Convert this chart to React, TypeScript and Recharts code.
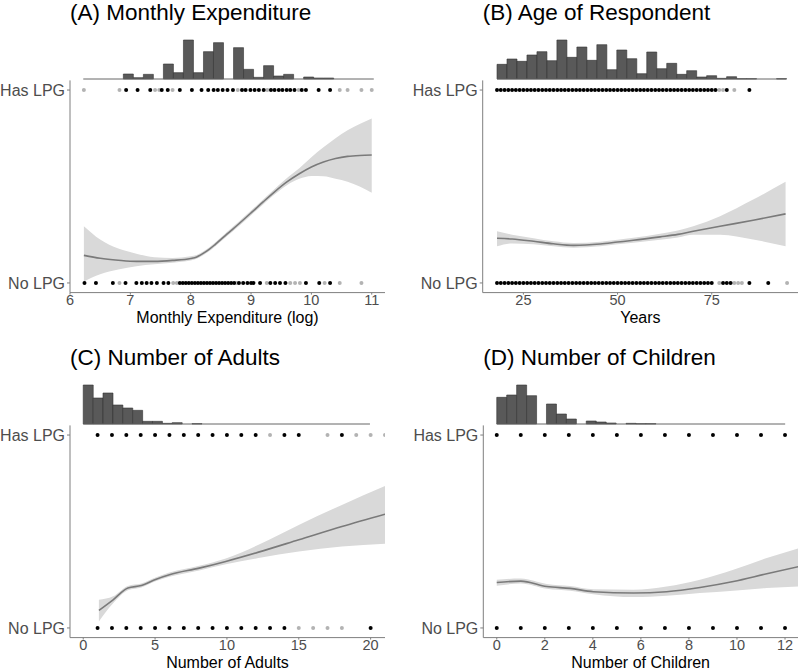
import React from 'react';
import { BarChart, Bar, XAxis, YAxis, ComposedChart, Area, Line, Scatter, ReferenceLine } from 'recharts';

const FONT = '"Liberation Sans", Arial, Helvetica, sans-serif';
const LEVELS = ['No LPG', 'Has LPG'];

// (A) Monthly expenditure (log)
const expBins = [0, 0, 0, 0, 15, 4, 14, 0, 45, 19, 117, 19, 82, 109, 0, 94, 29, 5, 40, 9, 14, 0, 6, 3, 3, 0, 0, 0, 0];
const expBinStart = 6.22;
const expBinWidth = 0.166;
const expX = [6.23, 6.5, 6.8, 7.1, 7.4, 7.7, 8.0, 8.1, 8.2, 8.3, 8.4, 8.6, 8.8, 9.0, 9.2, 9.4, 9.6, 9.8, 10.0, 10.2, 10.4, 10.6, 10.8, 11.0];
const expFit = [0.143, 0.128, 0.118, 0.112, 0.112, 0.117, 0.127, 0.135, 0.152, 0.173, 0.198, 0.253, 0.307, 0.363, 0.42, 0.475, 0.525, 0.566, 0.601, 0.627, 0.645, 0.656, 0.661, 0.663];
const expLo = [0.008, 0.045, 0.07, 0.087, 0.097, 0.105, 0.116, 0.125, 0.142, 0.163, 0.188, 0.242, 0.295, 0.351, 0.407, 0.461, 0.508, 0.54, 0.555, 0.553, 0.54, 0.525, 0.5, 0.467];
const expHi = [0.294, 0.225, 0.178, 0.152, 0.133, 0.13, 0.138, 0.145, 0.162, 0.183, 0.208, 0.264, 0.319, 0.375, 0.433, 0.489, 0.545, 0.595, 0.652, 0.703, 0.75, 0.792, 0.824, 0.853];
const expHasDark = [6.93, 7.12, 7.33, 7.52, 7.62, 7.82, 8.02, 8.18, 8.29, 8.38, 8.45, 8.53, 8.61, 8.7, 8.85, 8.91, 8.99, 9.06, 9.13, 9.21, 9.33, 9.39, 9.46, 9.52, 9.59, 9.65, 9.72, 9.84, 9.91, 10.12, 10.31];
const expHasLight = [6.23, 6.82, 7.41, 7.48, 7.7, 8.78, 9.27, 9.79, 10.47, 10.6, 10.83, 11.0];
const expNoDark = [6.24, 6.43, 6.71, 6.92, 7.1, 7.19, 7.27, 7.35, 7.44, 7.55, 7.63, 7.82, 7.87, 7.92, 7.97, 8.02, 8.07, 8.12, 8.17, 8.22, 8.27, 8.32, 8.37, 8.42, 8.47, 8.52, 8.57, 8.62, 8.67, 8.72, 8.8, 8.87, 8.94, 9.0, 9.04, 9.15, 9.32, 9.4, 9.48, 9.57, 9.91, 10.13, 10.31];
const expNoLight = [6.82, 7.71, 7.77, 8.76, 9.26, 9.65, 9.73, 9.81, 10.22, 10.47, 10.83];
const expTicks = [6, 7, 8, 9, 10, 11];

// (B) Age of respondent
const ageBins = [44, 60, 53, 72, 82, 55, 117, 65, 96, 56, 103, 28, 87, 61, 16, 81, 31, 47, 14, 25, 6, 10, 2, 7, 1, 1, 0, 0, 1];
const ageBinStart = 18;
const ageBinWidth = 2.65;
const ageX = [18, 22, 27.7, 33, 38.3, 45.4, 50, 54.2, 61.3, 66, 70.1, 77.2, 86, 94.6];
const ageFit = [0.232, 0.228, 0.216, 0.203, 0.195, 0.202, 0.212, 0.221, 0.239, 0.252, 0.268, 0.294, 0.325, 0.358];
const ageLo = [0.19, 0.205, 0.2, 0.19, 0.183, 0.19, 0.2, 0.208, 0.224, 0.236, 0.25, 0.25, 0.225, 0.19];
const ageHi = [0.268, 0.25, 0.232, 0.216, 0.207, 0.214, 0.224, 0.234, 0.255, 0.272, 0.294, 0.346, 0.432, 0.524];
const ageHasDark = [18, 19, 20, 21, 22, 23, 24, 25, 26, 27, 28, 29, 30, 31, 32, 33, 34, 35, 36, 37, 38, 39, 40, 41, 42, 43, 44, 45, 46, 47, 48, 49, 50, 51, 52, 53, 54, 55, 56, 57, 58, 59, 60, 61, 62, 63, 64, 65, 66, 67, 68, 69, 70, 71, 72, 73, 74, 75, 76, 79, 85];
const ageHasLight = [77, 78, 81];
const ageNoDark = [18, 19, 20, 21, 22, 23, 24, 25, 26, 27, 28, 29, 30, 31, 32, 33, 34, 35, 36, 37, 38, 39, 40, 41, 42, 43, 44, 45, 46, 47, 48, 49, 50, 51, 52, 53, 54, 55, 56, 57, 58, 59, 60, 61, 62, 63, 64, 65, 66, 67, 68, 69, 70, 71, 72, 73, 74, 75, 78, 79, 80, 85, 90];
const ageNoLight = [77, 81, 82, 83, 95];
const ageTicks = [25, 50, 75];

// (C) Number of adults
const adultBins = [117, 78, 93, 57, 48, 41, 8, 8, 2, 4, 0, 1, 0, 0, 0, 0, 0, 0, 0, 0, 0, 0, 0, 0, 0, 0, 0, 0, 0];
const adultBinStart = 0;
const adultBinWidth = 0.688;
const adultX = [1.09, 2.08, 3.11, 4.04, 5.08, 6, 8.07, 9.92, 12.2, 15, 18, 21];
const adultFit = [0.091, 0.146, 0.207, 0.22, 0.253, 0.276, 0.31, 0.345, 0.393, 0.457, 0.526, 0.59];
const adultLo = [0.034, 0.128, 0.196, 0.21, 0.243, 0.265, 0.298, 0.33, 0.362, 0.396, 0.422, 0.436];
const adultHi = [0.146, 0.164, 0.218, 0.23, 0.263, 0.287, 0.322, 0.36, 0.431, 0.534, 0.638, 0.736];
const adultHasDark = [1, 2, 3, 4, 5, 6, 7, 8, 9, 10, 11, 12, 14, 15, 18];
const adultHasLight = [13, 17, 19, 20, 21];
const adultNoDark = [1, 2, 3, 4, 5, 6, 7, 8, 9, 10, 11, 12, 13, 14, 20];
const adultNoLight = [15, 16, 17, 18];
const adultTicks = [0, 5, 10, 15, 20];

// (D) Number of children
const childBins = [80, 87, 117, 85, 0, 60, 30, 15, 0, 9, 6, 3, 0, 2, 1, 1, 0, 0, 0, 0, 0, 0, 0, 0, 0, 0, 0, 0, 0];
const childBinStart = 0;
const childBinWidth = 0.414;
const childX = [0, 1, 2.08, 3.05, 4.02, 5.69, 7.07, 8.46, 9.85, 11.24, 12.6];
const childFit = [0.236, 0.243, 0.215, 0.205, 0.188, 0.181, 0.188, 0.21, 0.241, 0.281, 0.319];
const childLo = [0.219, 0.23, 0.203, 0.193, 0.175, 0.16, 0.167, 0.181, 0.193, 0.207, 0.215];
const childHi = [0.25, 0.256, 0.228, 0.217, 0.2, 0.198, 0.215, 0.25, 0.302, 0.362, 0.414];
const childHasDark = [0, 1, 2, 3, 4, 5, 6, 7, 8, 9, 10, 11, 12];
const childHasLight: number[] = [];
const childNoDark = [0, 1, 2, 3, 4, 5, 6, 7, 8, 9, 10, 11, 12];
const childNoLight: number[] = [];
const childTicks = [0, 2, 4, 6, 8, 10, 12];

const AXIS = '#7f7f7f';
const TICK_TEXT = '#4d4d4d';

const dot = (color: string) => (props: any) => (
  <circle cx={props.cx} cy={props.cy} r={2} fill={color} />
);

interface PanelProps {
  title: string;
  axisTitle: string;
  left: number;
  top: number;
  plotLeft: number;
  plotRight: number;
  domain: [number, number];
  ticks: number[];
  bins: number[];
  binStart: number;
  binWidth: number;
  sx: number[];
  fit: number[];
  lo: number[];
  hi: number[];
  hasDark: number[];
  hasLight: number[];
  noDark: number[];
  noLight: number[];
}

const Panel: React.FC<PanelProps> = (p) => {
  const hist = p.bins.map((count, i) => ({ x: p.binStart + (i + 0.5) * p.binWidth, count }));
  const histEnd = p.binStart + p.bins.length * p.binWidth;
  const smooth = p.sx.map((x, i) => ({ x, fit: p.fit[i], band: [p.lo[i], p.hi[i]] }));
  const pts = (xs: number[], y: number) => xs.map((x) => ({ x, y }));
  const right = 400 - p.plotRight;

  return (
    <div style={{ position: 'absolute', left: p.left, top: p.top, width: 400, height: 326 }}>
      <div
        style={{
          position: 'absolute',
          left: p.plotLeft,
          top: 0,
          fontFamily: FONT,
          fontSize: 22.5,
          lineHeight: 'normal',
          color: '#000',
          whiteSpace: 'nowrap',
        }}
      >
        {p.title}
      </div>

      {/* marginal histogram */}
      <div style={{ position: 'absolute', left: 0, top: 35 }}>
        <BarChart
          width={400}
          height={45}
          data={hist}
          margin={{ top: 5, right, bottom: 1, left: p.plotLeft }}
          barCategoryGap={0}
          barGap={0}
        >
          <XAxis type="number" dataKey="x" domain={p.domain} allowDataOverflow hide />
          <YAxis type="number" domain={[0, 'dataMax']} hide />
          <Bar dataKey="count" fill="#595959" stroke="#333333" strokeWidth={0.6} isAnimationActive={false} />
          <ReferenceLine
            segment={[{ x: p.binStart, y: 0 }, { x: histEnd, y: 0 }]}
            stroke="#666666"
            strokeWidth={1}
          />
        </BarChart>
      </div>

      {/* main plot */}
      <div style={{ position: 'absolute', left: 0, top: 70 }}>
        <ComposedChart width={400} height={256} margin={{ top: 10.4, right, bottom: 3.2, left: 0 }}>
          <XAxis
            type="number"
            dataKey="x"
            domain={p.domain}
            allowDataOverflow
            ticks={p.ticks}
            interval={0}
            height={30.2}
            tickSize={2}
            tickMargin={0}
            stroke={AXIS}
            tick={{ fill: TICK_TEXT, fontSize: 14.5, fontFamily: FONT }}
            label={{ value: p.axisTitle, position: 'insideBottom', offset: 0, fill: '#000', fontSize: 16, fontFamily: FONT }}
          />
          <YAxis
            type="number"
            dataKey="y"
            domain={[-0.05, 1.05]}
            allowDataOverflow
            ticks={[0, 1]}
            interval={0}
            width={p.plotLeft}
            tickSize={3}
            tickMargin={2}
            stroke={AXIS}
            tickFormatter={(v: number) => LEVELS[v]}
            tick={{ fill: TICK_TEXT, fontSize: 16, fontFamily: FONT }}
          />
          <Area
            data={smooth}
            dataKey="band"
            type="monotone"
            fill="#d9d9d9"
            fillOpacity={1}
            stroke="none"
            isAnimationActive={false}
          />
          <Line
            data={smooth}
            dataKey="fit"
            type="monotone"
            stroke="#7a7a7a"
            strokeWidth={1.6}
            dot={false}
            isAnimationActive={false}
          />
          <Scatter data={pts(p.hasLight, 1)} shape={dot('#b3b3b3')} isAnimationActive={false} />
          <Scatter data={pts(p.noLight, 0)} shape={dot('#b3b3b3')} isAnimationActive={false} />
          <Scatter data={pts(p.hasDark, 1)} shape={dot('#000000')} isAnimationActive={false} />
          <Scatter data={pts(p.noDark, 0)} shape={dot('#000000')} isAnimationActive={false} />
        </ComposedChart>
      </div>
    </div>
  );
};

export default function App() {
  return (
    <div
      style={{
        position: 'absolute',
        left: 0,
        top: 0,
        width: 800,
        height: 671,
        overflow: 'hidden',
        background: '#fff',
      }}
    >
      <Panel
        title="(A) Monthly Expenditure"
        axisTitle="Monthly Expenditure (log)"
        left={0}
        top={0}
        plotLeft={70}
        plotRight={385}
        domain={[6.0, 11.22]}
        ticks={expTicks}
        bins={expBins}
        binStart={expBinStart}
        binWidth={expBinWidth}
        sx={expX}
        fit={expFit}
        lo={expLo}
        hi={expHi}
        hasDark={expHasDark}
        hasLight={expHasLight}
        noDark={expNoDark}
        noLight={expNoLight}
      />
      <Panel
        title="(B) Age of Respondent"
        axisTitle="Years"
        left={400}
        top={0}
        plotLeft={82.7}
        plotRight={398}
        domain={[14.2, 97.9]}
        ticks={ageTicks}
        bins={ageBins}
        binStart={ageBinStart}
        binWidth={ageBinWidth}
        sx={ageX}
        fit={ageFit}
        lo={ageLo}
        hi={ageHi}
        hasDark={ageHasDark}
        hasLight={ageHasLight}
        noDark={ageNoDark}
        noLight={ageNoLight}
      />
      <Panel
        title="(C) Number of Adults"
        axisTitle="Number of Adults"
        left={0}
        top={345}
        plotLeft={70}
        plotRight={385}
        domain={[-0.92, 21]}
        ticks={adultTicks}
        bins={adultBins}
        binStart={adultBinStart}
        binWidth={adultBinWidth}
        sx={adultX}
        fit={adultFit}
        lo={adultLo}
        hi={adultHi}
        hasDark={adultHasDark}
        hasLight={adultHasLight}
        noDark={adultNoDark}
        noLight={adultNoLight}
      />
      <Panel
        title="(D) Number of Children"
        axisTitle="Number of Children"
        left={400}
        top={345}
        plotLeft={83.3}
        plotRight={398}
        domain={[-0.56, 12.54]}
        ticks={childTicks}
        bins={childBins}
        binStart={childBinStart}
        binWidth={childBinWidth}
        sx={childX}
        fit={childFit}
        lo={childLo}
        hi={childHi}
        hasDark={childHasDark}
        hasLight={childHasLight}
        noDark={childNoDark}
        noLight={childNoLight}
      />
    </div>
  );
}
